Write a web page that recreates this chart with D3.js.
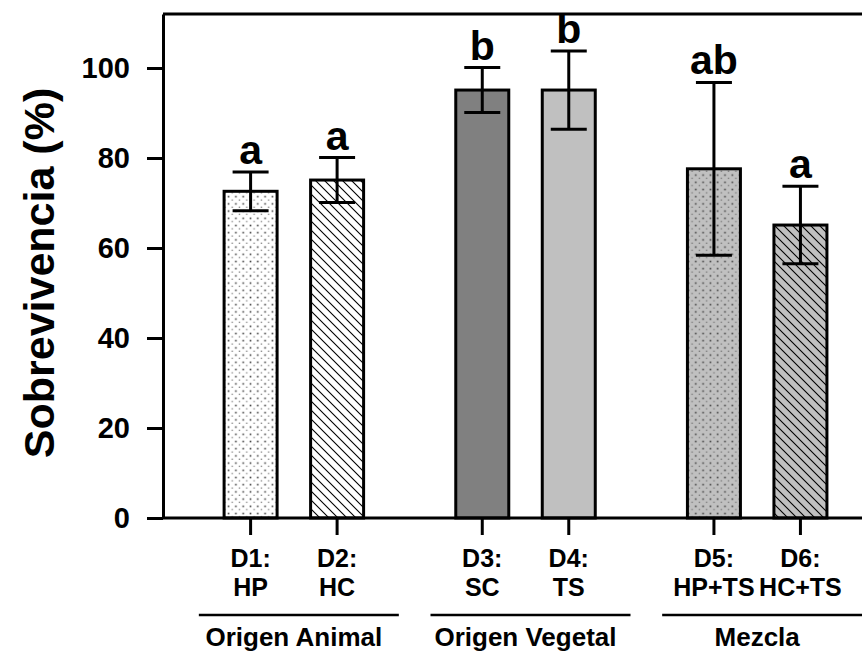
<!DOCTYPE html>
<html>
<head>
<meta charset="utf-8">
<script src="https://cdn.jsdelivr.net/npm/d3@7"></script>
<style>
  html, body { margin: 0; padding: 0; background: #fff; }
  svg { display: block; }
  text { font-family: Arial, "Liberation Sans", sans-serif; font-weight: bold; fill: #000; }
</style>
</head>
<body>
<svg id="chart" width="862" height="651"></svg>
<script>
// ---- data ----
const groups = ["Origen Animal", "Origen Vegetal", "Mezcla"];
const catCodes = ["D1:", "D2:", "D3:", "D4:", "D5:", "D6:"];
const catNames = ["HP", "HC", "SC", "TS", "HP+TS", "HC+TS"];
const catGroup = [0, 0, 1, 1, 2, 2];
const values = [72.6, 75.1, 95.1, 95.1, 77.6, 65.1];
const errors = [4.3, 5.0, 5.0, 8.7, 19.2, 8.6];
const letters = ["a", "a", "b", "b", "ab", "a"];
const yTicks = [0, 20, 40, 60, 80, 100];
const fills = ["dotsWhite", "hatchWhite", "#808080", "#c0c0c0", "dotsGray", "hatchGray"];

(function () {
const svg = d3.select("#chart");
const W = 862;
const mLeft = 163, mTop = 14, mBottom = 518;

// patterns
const defs = svg.append("defs");
function dots(id, bg) {
  const p = defs.append("pattern").attr("id", id).attr("patternUnits", "userSpaceOnUse")
    .attr("width", 7.3).attr("height", 7.2);
  p.append("rect").attr("width", 7.3).attr("height", 7.2).attr("fill", bg);
  p.append("rect").attr("x", 1.5).attr("y", 1.5).attr("width", 1.6).attr("height", 1.6).attr("fill", "#444");
  p.append("rect").attr("x", 5.2).attr("y", 5.1).attr("width", 1.4).attr("height", 1.0).attr("fill", "#666");
}
function hatch(id, bg) {
  const s = 9;
  const p = defs.append("pattern").attr("id", id).attr("patternUnits", "userSpaceOnUse")
    .attr("width", s).attr("height", s);
  p.append("rect").attr("width", s).attr("height", s).attr("fill", bg);
  p.append("path").attr("d", `M0,0L${s},${s}M${-s},0L${s},${2*s}M0,${-s}L${2*s},${s}`)
    .attr("stroke", "#000").attr("stroke-width", 1.1);
}
dots("dotsWhite", "#fff");
dots("dotsGray", "#c0c0c0");
hatch("hatchWhite", "#fff");
hatch("hatchGray", "#c0c0c0");

// scales
const y = d3.scaleLinear().domain([0, 112]).range([mBottom, mTop]);
const xGroup = d3.scaleBand().domain(groups).range([178, 873]).padding(0);
const xInner = d3.scalePoint().domain([0, 1]).range([72.6, 159.1]);
const cx = i => xGroup(groups[catGroup[i]]) + xInner(i % 2);
const barW = 53;
const idx = d3.range(values.length);

// frame top line
svg.append("line").attr("x1", mLeft).attr("x2", W + 5).attr("y1", mTop).attr("y2", mTop)
  .attr("stroke", "#000").attr("stroke-width", 3);

// bars
svg.append("g").selectAll("rect").data(idx).join("rect")
  .attr("x", i => cx(i) - barW / 2)
  .attr("y", i => y(values[i]))
  .attr("width", barW)
  .attr("height", i => y(0) - y(values[i]))
  .attr("fill", i => fills[i].startsWith("#") ? fills[i] : `url(#${fills[i]})`)
  .attr("stroke", "#000").attr("stroke-width", 3);

// error bars
const capW = 36;
const eb = svg.append("g").attr("stroke", "#000").attr("stroke-width", 3);
idx.forEach(i => {
  const hi = y(values[i] + errors[i]), lo = y(values[i] - errors[i]);
  eb.append("line").attr("x1", cx(i)).attr("x2", cx(i)).attr("y1", hi).attr("y2", lo);
  eb.append("line").attr("x1", cx(i) - capW / 2).attr("x2", cx(i) + capW / 2).attr("y1", hi).attr("y2", hi);
  eb.append("line").attr("x1", cx(i) - capW / 2).attr("x2", cx(i) + capW / 2).attr("y1", lo).attr("y2", lo);
});

// significance letters
svg.append("g").selectAll("text").data(idx).join("text")
  .attr("x", i => cx(i))
  .attr("y", i => y(values[i] + errors[i]) - 8)
  .attr("text-anchor", "middle")
  .attr("font-size", 41)
  .text(i => letters[i]);

// y axis
const yAxis = svg.append("g").attr("transform", `translate(${mLeft},0)`)
  .call(d3.axisLeft(y).tickValues(yTicks).tickSize(16).tickSizeOuter(0).tickPadding(17));
yAxis.select(".domain").attr("stroke-width", 3);
yAxis.selectAll(".tick line").attr("stroke-width", 3);
yAxis.selectAll(".tick text").attr("font-size", 29).attr("font-family", "Arial, 'Liberation Sans', sans-serif")
  .attr("font-weight", "bold").attr("fill", "#000");

// x axis line
svg.append("line").attr("x1", mLeft).attr("x2", W + 5).attr("y1", mBottom).attr("y2", mBottom)
  .attr("stroke", "#000").attr("stroke-width", 3);

// category ticks and labels
const xt = svg.append("g");
idx.forEach(i => {
  xt.append("line").attr("x1", cx(i)).attr("x2", cx(i)).attr("y1", mBottom).attr("y2", mBottom + 17)
    .attr("stroke", "#000").attr("stroke-width", 3);
  xt.append("text").attr("x", cx(i)).attr("y", 567).attr("text-anchor", "middle")
    .attr("font-size", 25).text(catCodes[i]);
  xt.append("text").attr("x", cx(i)).attr("y", 596).attr("text-anchor", "middle")
    .attr("font-size", 25).text(catNames[i]);
});

// group lines and labels
groups.forEach(g => {
  const c = xGroup(g) + xGroup.bandwidth() / 2;
  svg.append("line").attr("x1", c + 5 - 100).attr("x2", c + 5 + 100).attr("y1", 615).attr("y2", 615)
    .attr("stroke", "#000").attr("stroke-width", 2.5);
  svg.append("text").attr("x", c).attr("y", 646).attr("text-anchor", "middle")
    .attr("font-size", 26).text(g);
});

// y title
svg.append("text")
  .attr("transform", `translate(54,273) rotate(-90)`)
  .attr("text-anchor", "middle")
  .attr("font-size", 43)
  .text("Sobrevivencia (%)");
})();
</script>
</body>
</html>
